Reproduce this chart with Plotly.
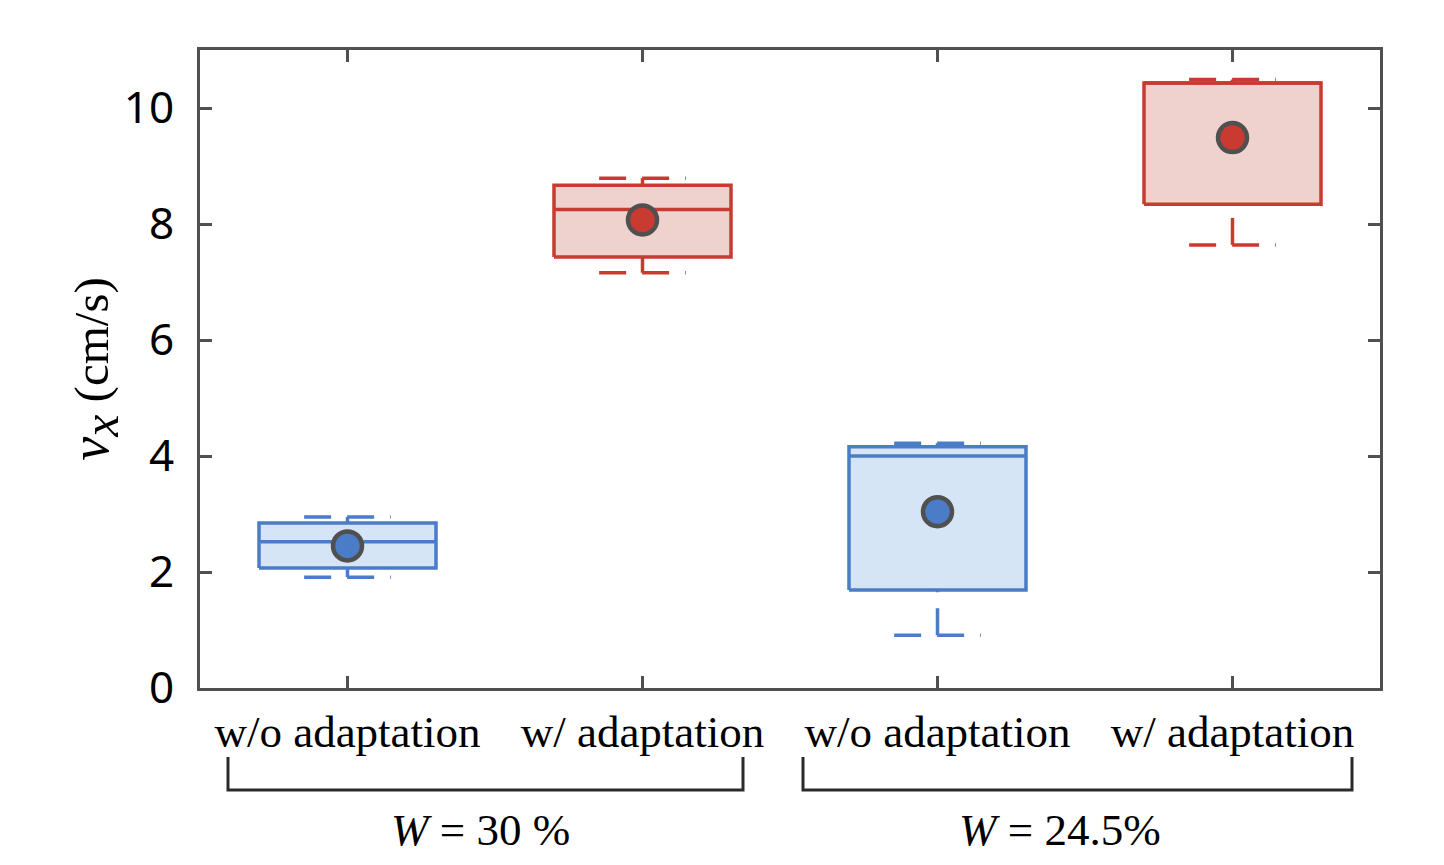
import plotly.graph_objects as go

# ---- data ----
categories = ["w/o adaptation", "w/ adaptation", "w/o adaptation", "w/ adaptation"]
positions = [1, 2, 3, 4]
groups = ["<i>W</i> = 30 %", "<i>W</i> = 24.5%"]
q1 = [2.07, 7.43, 1.69, 8.34]
median = [2.52, 8.25, 4.00, 10.43]
q3 = [2.845, 8.67, 4.16, 10.43]
lower_fence = [1.91, 7.16, 0.91, 7.64]
upper_fence = [2.95, 8.79, 4.22, 10.49]
mean = [2.45, 8.07, 3.04, 9.49]
y_ticks = [0, 2, 4, 6, 8, 10]

# ---- style ----
BLUE = "#4a7cc7"
BLUE_FILL = "#d5e5f5"
RED = "#c93a31"
RED_FILL = "#efd2cd"
AXIS = "#505050"
box_half = 0.3
cap_half = 0.147

fig = go.Figure()
for i, p in enumerate(positions):
    adapted = categories[i].startswith("w/ ")
    col = RED if adapted else BLUE
    fcol = RED_FILL if adapted else BLUE_FILL
    # whiskers (dashed), drawn from fence toward box
    fig.add_trace(go.Scatter(
        x=[p, p, None, p, p], y=[lower_fence[i], q1[i], None, upper_fence[i], q3[i]],
        mode="lines", line=dict(color=col, width=3.5, dash="27px,16px"),
        hoverinfo="skip", showlegend=False))
    # caps (dashed)
    fig.add_trace(go.Scatter(
        x=[p - cap_half, p + cap_half, None, p - cap_half, p + cap_half],
        y=[lower_fence[i], lower_fence[i], None, upper_fence[i], upper_fence[i]],
        mode="lines", line=dict(color=col, width=3.5, dash="27px,16px"),
        hoverinfo="skip", showlegend=False))
    # box
    fig.add_trace(go.Scatter(
        x=[p - box_half, p + box_half, p + box_half, p - box_half, p - box_half],
        y=[q1[i], q1[i], q3[i], q3[i], q1[i]],
        mode="lines", fill="toself", fillcolor=fcol,
        line=dict(color=col, width=3.5), hoverinfo="skip", showlegend=False))
    # median
    fig.add_trace(go.Scatter(
        x=[p - box_half, p + box_half], y=[median[i], median[i]],
        mode="lines", line=dict(color=col, width=3.5),
        hoverinfo="skip", showlegend=False))
    # mean
    fig.add_trace(go.Scatter(
        x=[p], y=[mean[i]], mode="markers",
        marker=dict(size=29, color=col, line=dict(color="#505050", width=4.5)),
        showlegend=False))

fig.update_layout(
    width=1444, height=865,
    margin=dict(l=192, r=72, t=42, b=185),
    paper_bgcolor="white", plot_bgcolor="white",
    xaxis=dict(
        range=[0.5, 4.5], tickmode="array", tickvals=positions, ticktext=categories,
        showgrid=False, zeroline=False,
        showline=True, linecolor=AXIS, linewidth=3, mirror="ticks",
        ticks="inside", ticklen=12, tickwidth=3, tickcolor=AXIS,
        tickfont=dict(family="Liberation Serif", size=45, color="black"),
        ticklabelstandoff=2,
    ),
    yaxis=dict(
        range=[0, 11], tickmode="array", tickvals=y_ticks,
        showgrid=False, zeroline=False,
        showline=True, linecolor=AXIS, linewidth=3, mirror="ticks",
        ticks="inside", ticklen=12, tickwidth=3, tickcolor=AXIS,
        tickfont=dict(family="Noto Sans", size=44, color="black"),
        ticklabelstandoff=14,
        title=dict(text="<span style='font-size:54px'><i>v</i></span><sub><span style='font-size:50px'><i>x</i></span></sub> (cm/s)",
                   font=dict(family="Liberation Serif", size=49, color="black"),
                   standoff=0),
    ),
)

# group brackets and labels
def px(xp):
    return (xp - 200) / 1180.0

def py(yp):
    return (688 - yp) / 638.0

brackets = [(228, 743), (803, 1352)]
label_x = [480, 1060]
for (a, b), lab, lx in zip(brackets, groups, label_x):
    fig.add_shape(type="path", xref="paper", yref="paper",
                  path=f"M {px(a)} {py(757)} L {px(a)} {py(790)} L {px(b)} {py(790)} L {px(b)} {py(757)}",
                  line=dict(color="#2a2a2a", width=3))
    fig.add_annotation(x=px(lx), y=py(830), xref="paper", yref="paper", text=lab,
                       showarrow=False, xanchor="center", yanchor="middle",
                       font=dict(family="Liberation Serif", size=45, color="black"))

fig.write_html("out.html")
